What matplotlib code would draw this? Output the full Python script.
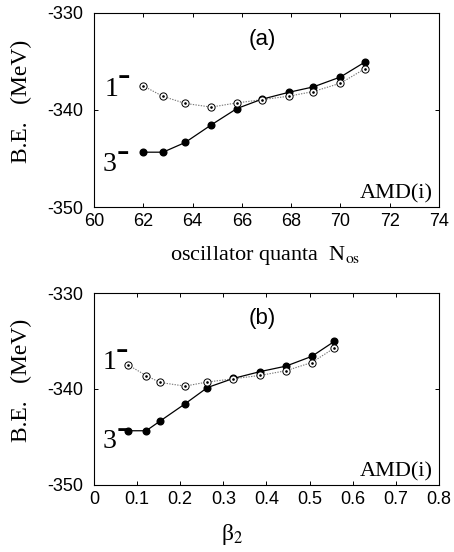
import numpy as np
import matplotlib
matplotlib.use("Agg")
import matplotlib.pyplot as plt

# ------------------------------------------------------------
# Data
# ------------------------------------------------------------
n_os = [62.0, 62.8, 63.7, 64.75, 65.8, 66.8, 67.9, 68.9, 70.0, 71.0]
beta2 = [0.080, 0.121, 0.153, 0.211, 0.263, 0.323, 0.386, 0.445, 0.505, 0.557]

be_3m = [-344.35, -344.35, -343.35, -341.55, -339.85, -338.9, -338.18, -337.62, -336.6, -335.05]
be_1m = [-337.52, -338.6, -339.32, -339.7, -339.27, -338.94, -338.58, -338.1, -337.24, -335.74]

plt.rcParams["mathtext.fontset"] = "stix"
plt.rcParams["font.family"] = "Liberation Sans"
plt.rcParams["axes.unicode_minus"] = False

SERIF = "Liberation Serif"

fig = plt.figure(figsize=(4.54, 5.52), dpi=100)
ax_a = fig.add_axes([0.207, 0.625, 0.760, 0.3515])
ax_b = fig.add_axes([0.207, 0.1214, 0.760, 0.3478])


def state_label(ax, pos, digit):
    # digit with a short, heavy superscript bar (parity minus)
    ax.text(pos[0], pos[1], digit, transform=ax.transAxes, ha="left",
            va="baseline", family=SERIF, fontsize=20)
    ax.annotate("-", xy=pos, xycoords="axes fraction", xytext=(9.6, 6.8),
                textcoords="offset points", ha="left", va="baseline",
                family=SERIF, fontsize=27)


def draw_panel(ax, x, xlim, xticks, tag, pos1, pos3):
    # 3- : filled circles, solid line
    ax.plot(x, be_3m, color="black", lw=0.9, marker="o", ms=4.8,
            mfc="black", mec="black", zorder=3)
    # 1- : open circles with dot, dotted grey line
    ax.plot(x, be_1m, color="#777777", lw=0.8, ls=(0, (1.2, 1.2)), zorder=2)
    ax.plot(x, be_1m, ls="none", marker="o", ms=5.2, mfc="white",
            mec="black", mew=0.7, zorder=4)
    ax.plot(x, be_1m, ls="none", marker="o", ms=0.9, mfc="black",
            mec="black", zorder=5)

    ax.set_xlim(*xlim)
    ax.set_ylim(-350, -330)
    ax.set_xticks(xticks)
    ax.set_yticks([-350, -340, -330])
    ax.tick_params(direction="in", length=3, width=0.7, top=True, right=True,
                   labelsize=13)
    ax.tick_params(axis="x", pad=4)
    ax.tick_params(axis="y", pad=8)
    for s in ax.spines.values():
        s.set_linewidth(0.8)

    ax.set_ylabel("B.E.   (MeV)", family=SERIF, fontsize=17)
    ax.yaxis.set_label_coords(-0.211, 0.545)
    ax.yaxis.label.set_va("center")

    ax.text(0.488, 0.865, tag, transform=ax.transAxes, ha="center",
            va="center", fontsize=16)
    ax.text(0.983, 0.045, "AMD(i)", transform=ax.transAxes, ha="right",
            va="baseline", family=SERIF, fontsize=16)
    state_label(ax, pos1, "1")
    state_label(ax, pos3, "3")


draw_panel(ax_a, n_os, (60, 74), np.arange(60, 75, 2), "(a)",
           (0.030, 0.574), (0.026, 0.183))
draw_panel(ax_b, beta2, (0, 0.8), np.round(np.arange(0, 0.81, 0.1), 1), "(b)",
           (0.024, 0.603), (0.026, 0.191))

ax_b.set_xticklabels(["0", "0.1", "0.2", "0.3", "0.4", "0.5", "0.6", "0.7", "0.8"])

ax_a.set_xlabel(r"oscillator quanta  N$_{\rm os}$", family=SERIF, fontsize=16)
ax_a.xaxis.set_label_coords(0.497, -0.273)
ax_a.xaxis.label.set_va("baseline")

ax_b.set_xlabel(r"β$_{\rm 2}$", family=SERIF, fontsize=17)
ax_b.xaxis.set_label_coords(0.40, -0.285)
ax_b.xaxis.label.set_va("baseline")

fig.savefig("out.png", dpi=100)
